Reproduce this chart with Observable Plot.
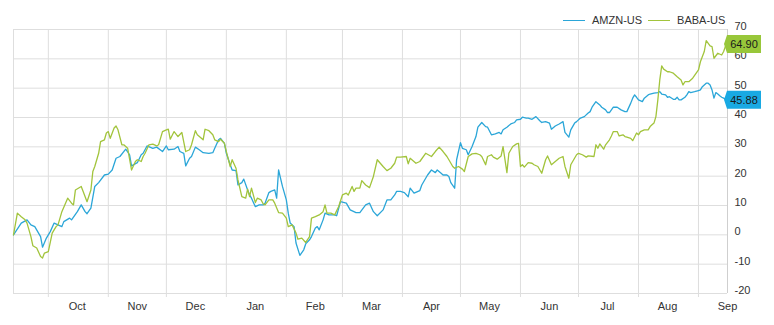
<!DOCTYPE html>
<html>
<head>
<meta charset="utf-8">
<script src="https://cdn.jsdelivr.net/npm/d3@7"></script>
<script src="https://cdn.jsdelivr.net/npm/@observablehq/plot@0.6"></script>
<style>
  html, body { margin: 0; padding: 0; background: #fff; }
  body { font-family: "Liberation Sans", Arial, sans-serif; }
  #wrap { position: relative; width: 774px; height: 325px; }
  #legend { position: absolute; top: 14px; left: 563px; font-size: 11px; color: #333; display: flex; align-items: center; white-space: nowrap; }
  #legend .sw { display: inline-block; width: 22px; height: 0; border-top: 1.3px solid; margin-right: 7px; }
  #legend .item { display: flex; align-items: center; margin-right: 6px; }
</style>
</head>
<body>
<div id="wrap"><div id="legend"></div></div>
<script>
// ---- data (percent change since start; x = calendar days since start date) ----
const startDate = "2015-09-13";
const endDay = 369;
const seriesNames = ["AMZN-US", "BABA-US"];
const seriesColors = ["#2ba6d8", "#a2c43c"];
const tagColors = ["#19a9e3", "#98c73a"];
const lastValues = [45.88, 64.90];

const amzn = [[0,0],[4,4.0],[7,5.1],[9,3.4],[11,2.8],[14,-0.6],[15,-4.2],[17,-1.1],[19,1.1],[21,4.0],[23,3.4],[25,2.8],[26,4.5],[29,5.7],[30,5.1],[33,7.9],[35,10.2],[37,7.9],[38,7.2],[40,9.1],[42,16.5],[44,17.8],[47,20.4],[49,20.7],[51,22.1],[53,26.1],[55,26.7],[58,29.2],[60,27.3],[61,23.5],[64,24.6],[66,27.3],[67,27.8],[69,30.3],[72,29.5],[74,29.9],[77,28.4],[79,30.3],[80,29.0],[83,29.2],[85,30.1],[86,28.4],[88,27.8],[89,23.5],[91,26.1],[92,26.7],[94,29.9],[96,29.0],[98,28.0],[101,27.8],[103,28.0],[104,29.5],[106,32.4],[107,32.9],[109,31.2],[110,27.8],[112,23.9],[113,22.1],[115,21.9],[116,17.0],[118,17.8],[119,19.0],[121,15.3],[122,13.6],[123,12.5],[125,9.6],[127,10.2],[129,10.2],[130,10.8],[132,14.4],[133,14.8],[135,15.3],[136,12.5],[137,22.1],[139,16.5],[141,11.9],[142,7.4],[143,4.0],[145,2.8],[146,-2.8],[148,-7.0],[150,-5.1],[151,-3.1],[153,-1.7],[154,-0.6],[156,2.3],[157,2.8],[158,1.7],[160,5.1],[161,7.4],[163,6.8],[166,6.8],[167,6.5],[169,11.3],[172,10.8],[174,8.5],[177,7.6],[179,7.6],[182,10.2],[184,10.8],[186,7.9],[188,6.5],[191,8.5],[193,11.9],[195,11.9],[197,13.6],[198,14.8],[200,14.8],[202,14.4],[204,13.0],[205,15.9],[207,14.2],[210,15.1],[211,17.0],[214,20.4],[216,22.1],[218,21.2],[219,22.1],[221,21.0],[222,20.4],[224,20.4],[225,19.9],[226,17.8],[228,15.9],[229,25.6],[231,31.4],[232,29.5],[234,29.0],[235,27.3],[237,30.1],[239,33.5],[240,36.7],[242,38.3],[244,36.9],[245,36.7],[247,34.1],[249,34.4],[251,34.9],[252,34.4],[253,35.8],[255,36.7],[257,37.8],[259,38.3],[260,39.2],[262,39.4],[263,40.1],[265,39.8],[266,39.8],[268,39.4],[270,40.3],[272,38.9],[273,38.3],[275,38.6],[277,38.1],[278,36.0],[280,37.1],[282,37.8],[284,38.6],[285,34.9],[287,33.3],[288,35.8],[290,38.1],[291,38.6],[293,39.8],[295,40.3],[297,41.5],[298,42.0],[299,43.5],[301,45.4],[303,44.3],[304,43.5],[306,42.6],[307,41.7],[308,41.7],[310,43.5],[312,43.5],[314,42.6],[316,42.0],[317,42.0],[319,44.9],[320,46.6],[321,47.7],[322,46.9],[323,46.0],[325,45.4],[326,46.6],[328,47.7],[329,48.0],[331,48.3],[333,48.5],[334,48.8],[335,48.0],[337,47.7],[338,46.9],[339,47.1],[341,46.2],[342,46.2],[343,46.9],[344,46.0],[345,46.0],[347,46.9],[348,47.7],[349,48.8],[350,48.5],[352,48.8],[354,49.2],[355,49.4],[356,50.5],[358,51.7],[359,51.7],[360,51.1],[361,49.4],[362,46.6],[363,48.5],[364,48.0],[365,47.4],[366,46.9],[367,46.6],[369,45.88]];

const baba = [[0,0],[2,7.4],[4,6.2],[6,5.1],[7,4.0],[9,-0.6],[10,-3.7],[12,-4.5],[14,-7.4],[15,-7.9],[16,-6.2],[18,-5.7],[20,0.6],[22,2.8],[23,3.4],[25,7.9],[28,12.5],[30,10.8],[31,10.2],[32,15.3],[35,16.5],[36,14.8],[38,11.3],[40,15.3],[41,21.6],[42,23.3],[44,27.8],[45,31.8],[47,32.4],[48,34.7],[49,35.2],[50,32.9],[52,36.4],[53,37.1],[54,35.8],[56,30.7],[57,30.7],[59,29.5],[61,22.1],[63,25.0],[64,25.6],[66,25.0],[67,26.7],[68,27.8],[70,30.7],[72,30.9],[74,30.3],[75,30.7],[77,35.2],[79,35.8],[80,36.0],[81,32.6],[83,35.2],[85,33.5],[87,34.9],[89,28.4],[91,29.0],[92,30.7],[94,35.5],[95,34.1],[98,32.4],[99,36.0],[101,35.5],[103,34.1],[104,32.4],[106,31.8],[107,32.6],[109,31.2],[110,28.4],[112,23.3],[113,25.6],[115,22.7],[116,18.7],[118,13.0],[120,12.5],[121,15.6],[122,13.0],[123,15.9],[125,11.0],[126,12.5],[128,11.9],[129,10.6],[130,10.2],[132,11.9],[134,11.9],[135,10.8],[137,7.6],[139,7.4],[141,5.7],[142,2.8],[144,3.4],[146,0.6],[147,-1.5],[149,-1.1],[151,-2.6],[153,-0.6],[154,5.7],[156,6.2],[158,6.8],[160,7.9],[161,10.2],[162,7.4],[164,7.4],[166,6.8],[168,9.6],[170,13.6],[172,14.2],[173,13.6],[175,16.5],[176,14.8],[177,15.9],[179,15.9],[180,18.5],[182,17.0],[184,16.1],[186,19.9],[188,25.6],[191,23.3],[193,21.9],[195,22.7],[197,24.4],[198,26.5],[200,26.5],[203,26.7],[204,24.2],[205,26.1],[208,24.4],[210,25.0],[213,27.8],[216,26.7],[218,28.4],[220,29.9],[222,28.4],[224,26.7],[225,25.6],[227,23.3],[228,22.7],[230,23.3],[232,22.4],[233,21.6],[235,26.7],[237,27.6],[239,27.8],[241,27.3],[242,26.7],[244,23.9],[245,26.7],[247,27.3],[248,26.5],[250,25.8],[252,26.9],[253,30.1],[255,21.2],[256,27.8],[258,30.1],[260,31.0],[261,31.2],[262,23.3],[263,23.9],[264,23.1],[266,24.6],[268,24.4],[269,23.9],[271,23.3],[273,21.0],[275,25.6],[276,26.9],[278,23.9],[280,25.0],[282,26.1],[284,26.7],[285,23.3],[287,19.3],[288,23.9],[291,27.3],[292,27.8],[294,27.3],[296,26.5],[297,26.9],[300,26.7],[301,30.7],[302,29.5],[303,31.0],[305,29.2],[306,30.7],[308,32.4],[309,33.7],[310,35.2],[312,35.2],[313,33.7],[315,34.1],[316,33.5],[317,33.3],[319,32.9],[320,32.1],[322,34.7],[323,34.1],[324,35.2],[326,35.8],[328,35.8],[329,36.9],[331,38.1],[332,40.3],[333,46.0],[334,52.8],[335,57.6],[336,56.5],[338,55.6],[339,55.6],[341,55.1],[343,53.9],[345,52.8],[346,51.1],[347,52.2],[349,52.2],[351,53.4],[353,55.3],[354,56.2],[355,59.0],[357,62.5],[358,66.2],[360,64.4],[361,64.2],[362,60.2],[364,61.9],[366,61.3],[367,62.5],[368,64.4],[369,64.90]];

const monthTicks = ["2015-10","2015-11","2015-12","2016-01","2016-02","2016-03","2016-04","2016-05","2016-06","2016-07","2016-08","2016-09"];
const monthLabels = ["Oct","Nov","Dec","Jan","Feb","Mar","Apr","May","Jun","Jul","Aug","Sep"];
const yTicks = [-20,-10,0,10,20,30,40,50,60,70];

// ---- build ----
const t0 = new Date(startDate + "T00:00:00Z").getTime();
const toDate = d => new Date(t0 + d * 864e5);
const xStart = toDate(0), xEnd = toDate(endDay);
const rows = [];
[amzn, baba].forEach((s, i) => s.forEach(([d, v]) => rows.push({date: toDate(d), value: v, series: seriesNames[i]})));

const gridStarts = monthTicks.map(m => new Date(m + "-01T00:00:00Z"));
const labelDates = monthTicks.map(m => new Date(m + "-16T00:00:00Z"));
const labelMap = new Map(labelDates.map((d, i) => [+d, monthLabels[i]]));

const gridColor = "#dedede";
const chart = Plot.plot({
  width: 774, height: 325,
  marginLeft: 13, marginRight: 47, marginTop: 29, marginBottom: 32,
  style: {fontFamily: "'Liberation Sans', Arial, sans-serif", fontSize: "11px", color: "#333", background: "#fff", overflow: "visible"},
  x: {type: "utc", domain: [xStart, xEnd]},
  y: {domain: [-20, 70]},
  color: {domain: seriesNames, range: seriesColors},
  marks: [
    Plot.gridY(yTicks, {stroke: gridColor, strokeOpacity: 1}),
    Plot.gridX(gridStarts, {stroke: gridColor, strokeOpacity: 1}),
    Plot.ruleX([xStart], {stroke: gridColor}),
    Plot.ruleX([xEnd], {stroke: "#cfcfcf"}),
    Plot.axisX(gridStarts, {tickSize: 4, stroke: gridColor, tickFormat: () => "", label: null}),
    Plot.axisX(labelDates, {tickSize: 0, tickPadding: 9, tickFormat: d => labelMap.get(+d), fill: "#333", label: null}),
    Plot.axisY(yTicks, {anchor: "right", tickSize: 0, tickPadding: 7, dy: -3, fill: "#333", tickFormat: d => String(d), label: null}),
    Plot.line(rows, {x: "date", y: "value", z: "series", stroke: "series", strokeWidth: 1.3})
  ]
});
document.getElementById("wrap").appendChild(chart);

// value tags at the right edge, positioned through the plot's own scales
const xs = chart.scale("x"), ys = chart.scale("y");
const svg = d3.select(chart);
const xr = xs.apply(xEnd);
lastValues.forEach((v, i) => {
  const yc = ys.apply(v);
  const w = 34, h = 18, p = 3;
  const g = svg.append("g");
  g.append("path")
    .attr("d", `M${xr - p},${yc} L${xr},${yc - h/2} L${xr + w},${yc - h/2} L${xr + w},${yc + h/2} L${xr},${yc + h/2} Z`)
    .attr("fill", tagColors[i]);
  g.append("text")
    .attr("x", xr + w/2).attr("y", yc).attr("dy", "0.35em")
    .attr("text-anchor", "middle")
    .attr("font-size", 11).attr("fill", "#1a1a1a")
    .text(v.toFixed(2));
});

// legend
const legend = document.getElementById("legend");
seriesNames.forEach((n, i) => {
  const it = document.createElement("span");
  it.className = "item";
  it.innerHTML = `<span class="sw" style="border-color:${seriesColors[i]}"></span>${n}`;
  legend.appendChild(it);
});
</script>
</body>
</html>
